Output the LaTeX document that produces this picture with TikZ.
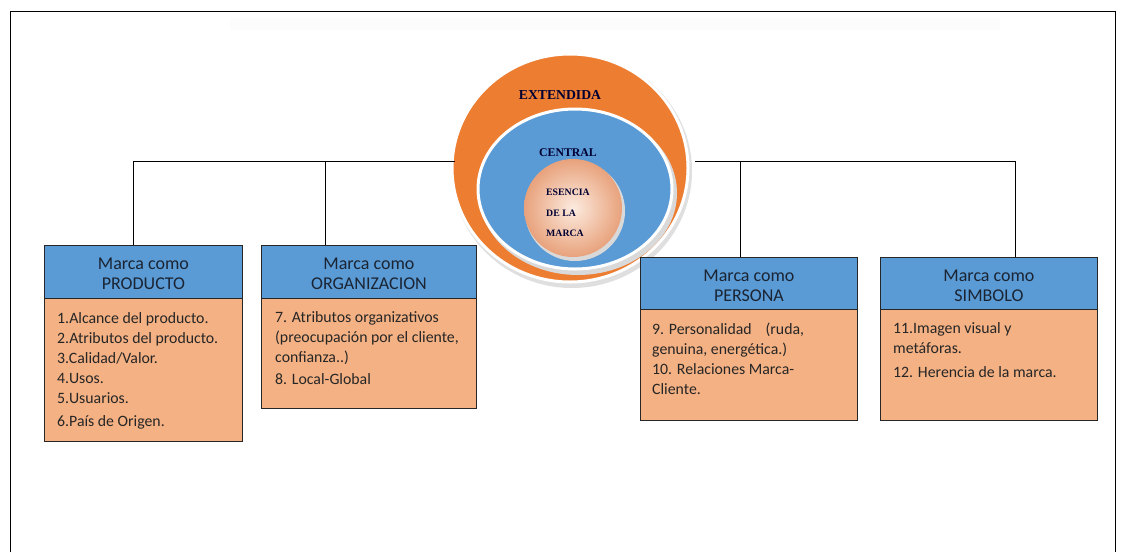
\documentclass[tikz,border=0pt]{standalone}
\usepackage{fontspec}
\setmainfont{Carlito}
\newfontfamily\serifcaps{Liberation Serif}
\definecolor{hdrblue}{HTML}{5B9BD5}
\definecolor{bodyor}{HTML}{F4B183}
\definecolor{ringor}{HTML}{ED7D31}
\definecolor{peachin}{HTML}{FCEBDF}
\definecolor{peachout}{HTML}{E8A27C}
\definecolor{hdrtext}{HTML}{1A2433}
\begin{document}
\begin{tikzpicture}[x=1pt,y=-1pt,
  hdr/.style={draw=black!85,line width=0.9pt,fill=hdrblue,align=center,inner sep=0pt,
    font=\fontsize{18}{20}\selectfont,text=hdrtext},
  hdrtxt/.style={align=center,inner sep=0pt,font=\fontsize{18}{20}\selectfont,text=hdrtext},
  bodybox/.style={draw=black!85,line width=0.9pt,fill=bodyor,inner sep=0pt},
  bodytxt/.style={anchor=north west,align=left,inner sep=0pt,font=\fontsize{15.8}{20}\selectfont,text=black!85},
  link/.style={draw=black,line width=0.9pt},
  circtxt/.style={font=\serifcaps\bfseries,text=black!80!blue,inner sep=0pt}]
\useasboundingbox (0,0) rectangle (1121,552);
% outer frame
\draw[line width=0.8pt] (10,552) -- (10,11) -- (1115,11) -- (1115,552);
\fill[gray!2] (230,18) rectangle (1000,30);
% circles
\fill[gray!25] (572,171) ellipse (120 and 117);
\filldraw[fill=ringor,draw=white,line width=3pt] (570,168) ellipse (118 and 114);
\node (orange) at (570,168) [circle,minimum size=230pt,inner sep=0pt] {};
\fill[gray!30] (578,193) ellipse (99 and 82);
\filldraw[fill=hdrblue,draw=white,line width=3pt] (575,189) ellipse (97 and 80);
\fill[gray!30] (575,211) circle (50);
\shade[inner color=peachin,outer color=peachout] (573,208) circle (49);
\node[circtxt,font=\serifcaps\bfseries\fontsize{13.7}{15}\selectfont] (ext) at (560,95) {EXTENDIDA};
\node[circtxt,font=\serifcaps\bfseries\fontsize{11.8}{13}\selectfont] (cen) at (568,153) {CENTRAL};
\node[circtxt,anchor=west,font=\serifcaps\bfseries\fontsize{9.8}{11}\selectfont] (es1) at (546,192) {ESENCIA};
\node[circtxt,anchor=west,font=\serifcaps\bfseries\fontsize{9.8}{11}\selectfont] (es2) at (546,213) {DE LA};
\node[circtxt,anchor=west,font=\serifcaps\bfseries\fontsize{9.8}{11}\selectfont] (es3) at (546,233) {MARCA};
% boxes
\node[bodybox,anchor=north west,minimum width=198pt,minimum height=143pt] (b1) at (44,298) {};
\node[hdr,anchor=north west,minimum width=198pt,minimum height=53pt] (h1) at (44,245) {};
\node[hdrtxt] (ht1) at ([yshift=-2pt]h1.center) {Marca como\\PRODUCTO};
\node[bodytxt] (t1) at (57,312) {1.Alcance del producto.\\2.Atributos del producto.\\3.Calidad/Valor.\\4.Usos.\\5.Usuarios.\\[3pt]6.País de Origen.};

\node[bodybox,anchor=north west,minimum width=215pt,minimum height=110pt] (b2) at (261,298) {};
\node[hdr,anchor=north west,minimum width=215pt,minimum height=53pt] (h2) at (261,245) {};
\node[hdrtxt] (ht2) at ([yshift=-2pt]h2.center) {Marca como\\ORGANIZACION};
\node[bodytxt] (t2) at (275,311) {7. Atributos organizativos\\(preocupación por el cliente,\\confianza..)\\[2pt]8. Local-Global};

\node[bodybox,anchor=north west,minimum width=217pt,minimum height=111pt] (b3) at (640,309) {};
\node[hdr,anchor=north west,minimum width=217pt,minimum height=52pt] (h3) at (640,257) {};
\node[hdrtxt] (ht3) at ([yshift=-2pt]h3.center) {Marca como\\PERSONA};
\node[bodytxt] (t3) at (652,323) {9. Personalidad\hspace{14pt}(ruda,\\genuina, energética.)\\10. Relaciones Marca-\\Cliente.};

\node[bodybox,anchor=north west,minimum width=217pt,minimum height=111pt] (b4) at (880,309) {};
\node[hdr,anchor=north west,minimum width=217pt,minimum height=52pt] (h4) at (880,257) {};
\node[hdrtxt] (ht4) at ([yshift=-2pt]h4.center) {Marca como\\SIMBOLO};
\node[bodytxt] (t4) at (893,322) {11.Imagen visual y\\metáforas.\\[4pt]12. Herencia de la marca.};
% connectors
\coordinate (jl) at (455,161);
\coordinate (jr) at (695,161);
\coordinate (p1) at ([xshift=89pt]h1.north west);
\coordinate (p2) at ([xshift=64pt]h2.north west);
\coordinate (p3) at ([xshift=100pt]h3.north west);
\coordinate (p4) at ([xshift=135pt]h4.north west);
\draw[link] (p1) |- (jl);
\draw[link] (p2) -- (p2 |- jl);
\draw[link] (p4) |- (jr);
\draw[link] (p3) -- (p3 |- jr);
\end{tikzpicture}
\end{document}
